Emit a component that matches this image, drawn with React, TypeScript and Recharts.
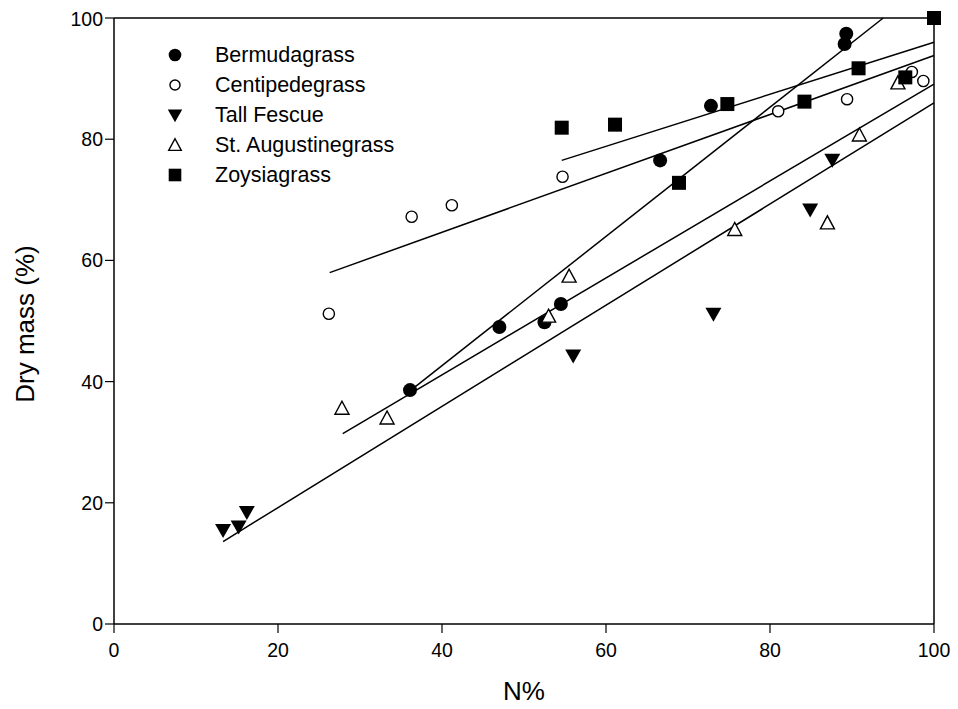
import { ScatterChart, Scatter, XAxis, YAxis, ReferenceLine, Legend } from 'recharts'

// N% (x) and dry mass % (y) per grass
const bermudaN  = [36.1, 47.0, 52.5, 54.5, 66.6, 72.8, 89.1, 89.3, 100]
const bermudaDM = [38.6, 49.0, 49.8, 52.8, 76.5, 85.5, 95.7, 97.4, 100]

const centipedeN  = [26.2, 36.3, 41.2, 54.7, 81.0, 89.4, 97.3, 98.7]
const centipedeDM = [51.2, 67.2, 69.1, 73.8, 84.6, 86.6, 91.1, 89.6]

const fescueN  = [13.3, 15.2, 16.2, 56.0, 73.1, 84.9, 87.6]
const fescueDM = [15.5, 16.1, 18.5, 44.3, 51.2, 68.4, 76.6]

const augustineN  = [27.8, 33.3, 53.0, 55.5, 75.7, 87.0, 90.9, 95.6]
const augustineDM = [35.6, 34.0, 50.8, 57.4, 65.1, 66.2, 80.7, 89.3]

const zoysiaN  = [54.6, 61.1, 68.9, 74.8, 84.2, 90.8, 96.5, 100]
const zoysiaDM = [81.9, 82.4, 72.8, 85.8, 86.2, 91.7, 90.2, 100]

// linear fits: slope, intercept, x range (same order as the series)
const seriesNames    = ['Bermudagrass', 'Centipedegrass', 'Tall Fescue', 'St. Augustinegrass', 'Zoysiagrass']
const fitSlopes      = [1.066, 0.486, 0.835, 0.800, 0.4295]
const fitIntercepts  = [0.0, 45.2, 2.5, 9.1, 53.05]
const fitStarts      = [36.1, 26.3, 13.3, 27.9, 54.6]
const fitEnds        = [100, 100, 100, 100, 100]

const xTicks = [0, 20, 40, 60, 80, 100]
const yTicks = [0, 20, 40, 60, 80, 100]

const FONT = '"Liberation Sans", Arial, sans-serif'

const toPoints = (xs: number[], ys: number[]) => xs.map((x, i) => ({ x, y: ys[i] }))

const fitLine = (i: number) => {
  const m = fitSlopes[i]
  const b = fitIntercepts[i]
  const x1 = fitStarts[i]
  const x2 = Math.min(fitEnds[i], (100 - b) / m)
  return [{ x: x1, y: m * x1 + b }, { x: x2, y: m * x2 + b }]
}

type Kind = 'dot' | 'ring' | 'down' | 'up' | 'square'
const kinds: Kind[] = ['dot', 'ring', 'down', 'up', 'square']

function Marker({ kind, cx, cy, s = 1 }: { kind: Kind; cx: number; cy: number; s?: number }) {
  switch (kind) {
    case 'dot':
      return <circle cx={cx} cy={cy} r={7 * s} fill="#000" />
    case 'ring':
      return <circle cx={cx} cy={cy} r={5.6 * s} fill="#fff" stroke="#000" strokeWidth={1.4} />
    case 'down':
      return <polygon points={`${cx - 8 * s},${cy - 6 * s} ${cx + 8 * s},${cy - 6 * s} ${cx},${cy + 8 * s}`} fill="#000" />
    case 'up':
      return (
        <polygon
          points={`${cx - 7 * s},${cy + 6 * s} ${cx + 7 * s},${cy + 6 * s} ${cx},${cy - 7 * s}`}
          fill="#fff" stroke="#000" strokeWidth={1.4}
        />
      )
    default:
      return <rect x={cx - 7 * s} y={cy - 7 * s} width={14 * s} height={14 * s} fill="#000" />
  }
}

const shapeFor = (kind: Kind) => (p: any) => <Marker kind={kind} cx={p.cx} cy={p.cy} />

function LegendBox() {
  return (
    <div style={{ fontFamily: FONT, fontSize: 21.5, color: '#000' }}>
      {seriesNames.map((name, i) => (
        <div key={name} style={{ display: 'flex', alignItems: 'center', height: 30 }}>
          <svg width={18} height={18} style={{ marginRight: 31 }}>
            <Marker kind={kinds[i]} cx={9} cy={9} s={0.9} />
          </svg>
          <span>{name}</span>
        </div>
      ))}
    </div>
  )
}

function YTitle({ viewBox }: any) {
  const cy = viewBox.y + viewBox.height / 2 + 3
  return (
    <text x={17} y={cy} transform={`rotate(-90 17 ${cy})`} textAnchor="middle" dominantBaseline="central"
      fontFamily={FONT} fontSize={26} fill="#000">
      Dry mass (%)
    </text>
  )
}

const series = [
  toPoints(bermudaN, bermudaDM),
  toPoints(centipedeN, centipedeDM),
  toPoints(fescueN, fescueDM),
  toPoints(augustineN, augustineDM),
  toPoints(zoysiaN, zoysiaDM),
]

export default function App() {
  const tick = { fontSize: 19.5, fill: '#000', fontFamily: FONT }
  return (
    <ScatterChart width={950} height={700} margin={{ top: 10, right: 24, bottom: 6, left: 40 }}>
      <XAxis
        type="number" dataKey="x" domain={[0, 100]} ticks={xTicks}
        tick={tick} tickSize={9} tickMargin={10} height={78}
        axisLine={{ stroke: '#000', strokeWidth: 1.5 }} tickLine={{ stroke: '#000', strokeWidth: 1.2 }}
        label={{ value: 'N%', position: 'insideBottom', offset: 2, fontSize: 26, fill: '#000', fontFamily: FONT }}
      />
      <YAxis
        type="number" dataKey="y" domain={[0, 100]} ticks={yTicks}
        tick={tick} tickSize={9} width={66}
        axisLine={{ stroke: '#000', strokeWidth: 1.5 }} tickLine={{ stroke: '#000', strokeWidth: 1.2 }}
        label={<YTitle />}
      />
      <ReferenceLine y={100} stroke="#000" strokeWidth={1.5} />
      <ReferenceLine x={100} stroke="#000" strokeWidth={1.5} />
      {series.map((_, i) => (
        <Scatter
          key={`fit-${i}`} data={fitLine(i)} line={{ stroke: '#000', strokeWidth: 1.5 }}
          shape={() => <g />} legendType="none" isAnimationActive={false}
        />
      ))}
      {series.map((pts, i) => (
        <Scatter key={seriesNames[i]} name={seriesNames[i]} data={pts} shape={shapeFor(kinds[i])} isAnimationActive={false} />
      ))}
      <Legend
        layout="vertical" align="center" verticalAlign="middle" content={<LegendBox />}
        wrapperStyle={{ left: 158, top: 32, width: 'auto' }}
      />
    </ScatterChart>
  )
}
